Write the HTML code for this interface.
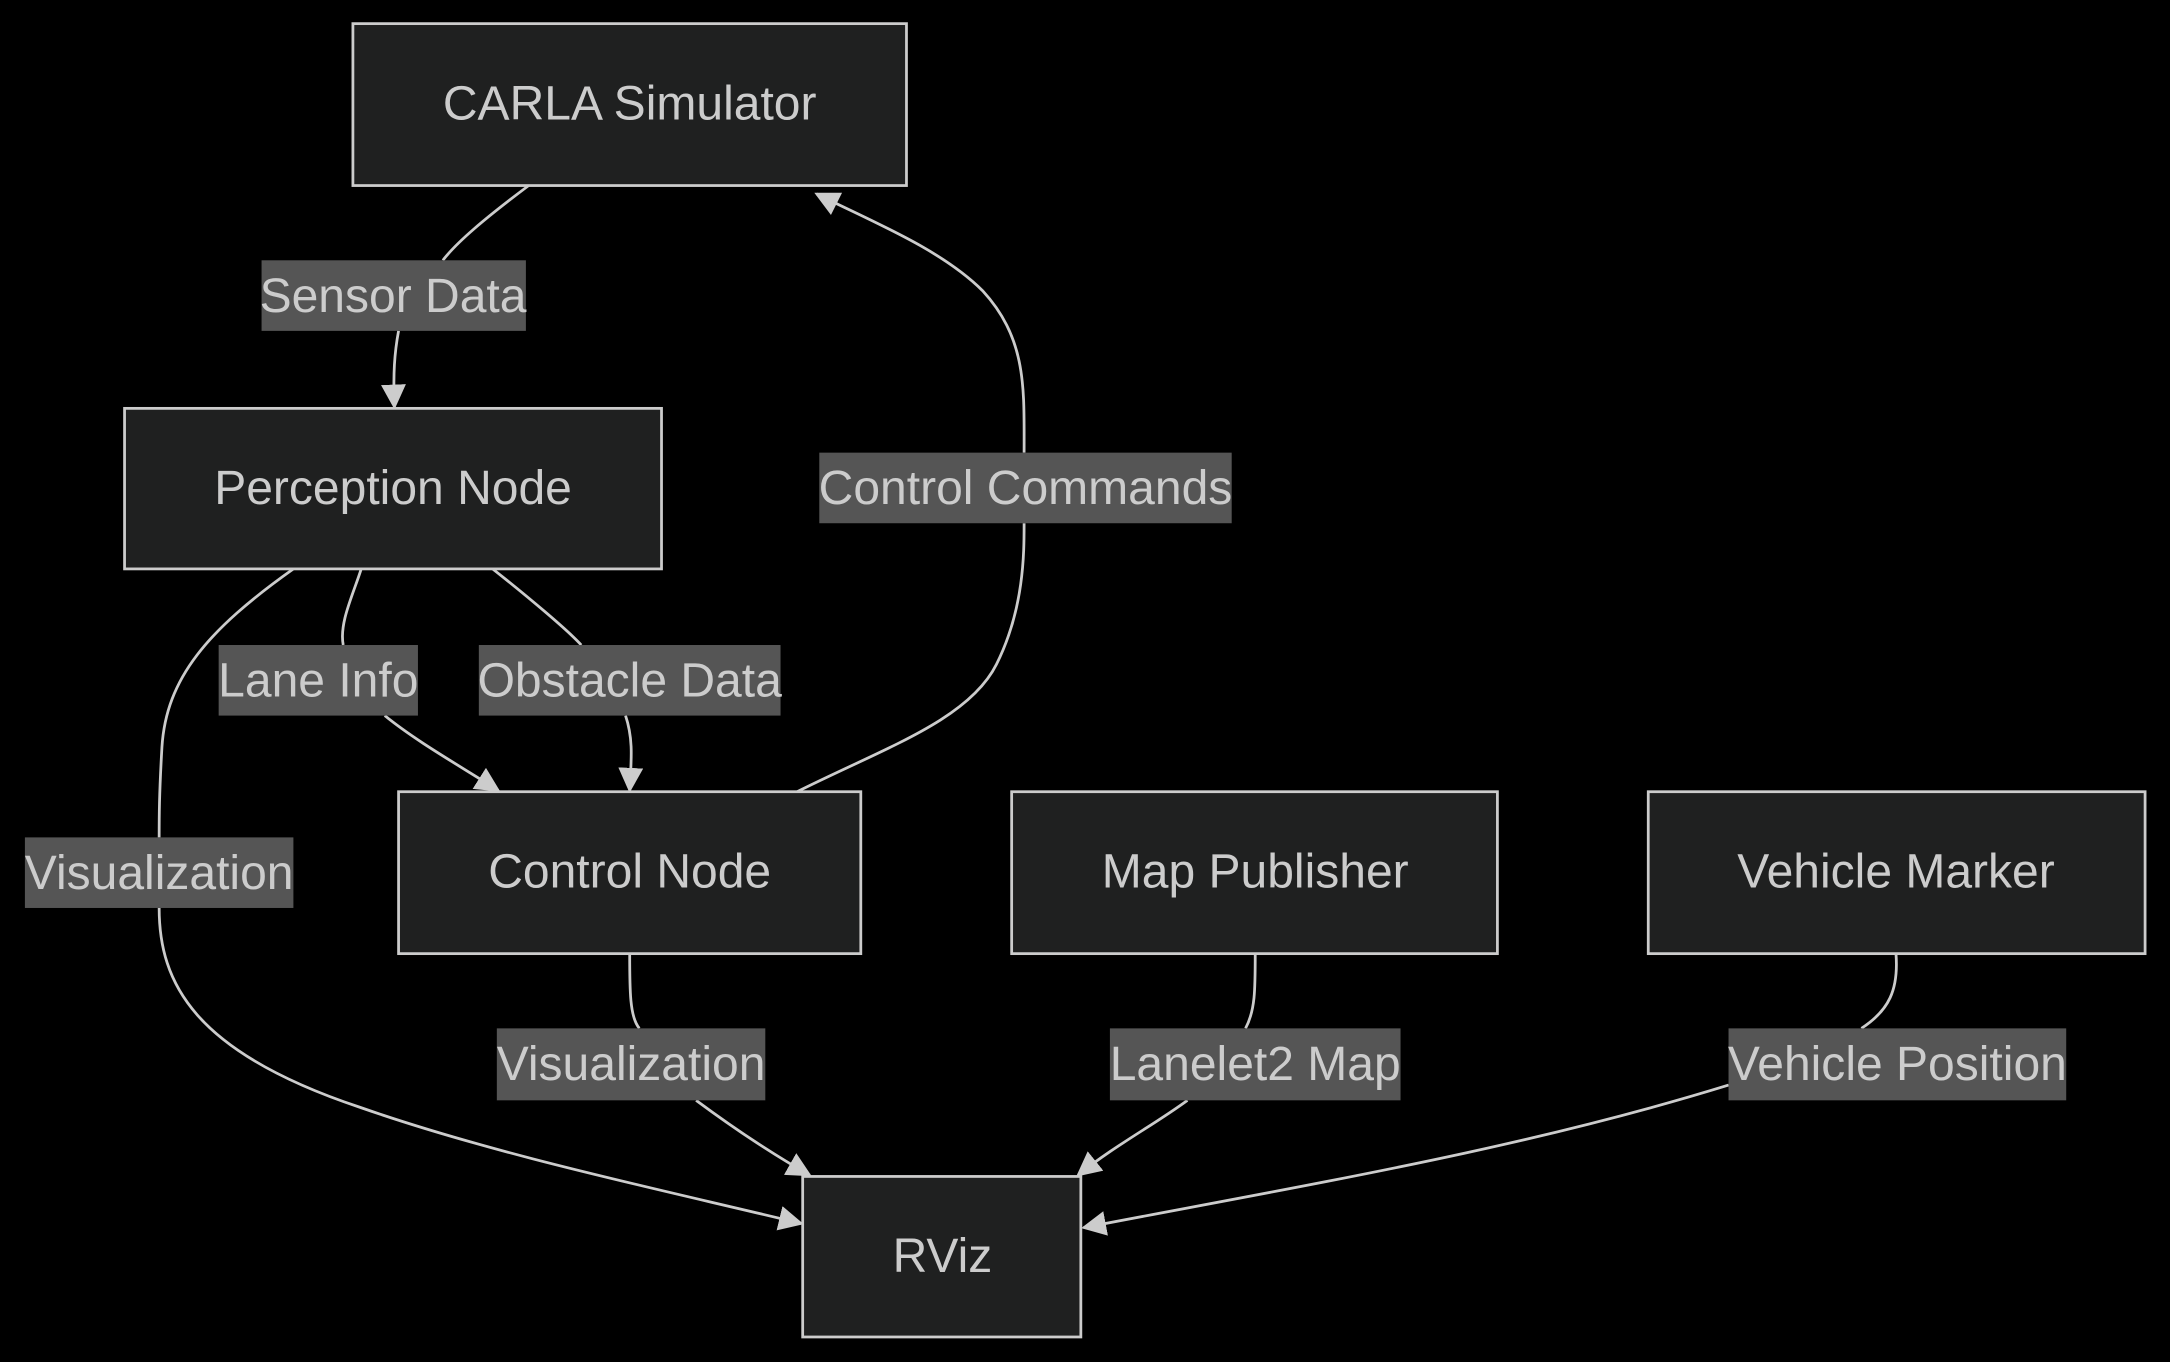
<!DOCTYPE html>
<html><head><meta charset="utf-8"><style>
html,body{margin:0;padding:0;background:#000;}
svg{display:block;}
text{font-family:"Liberation Sans",Arial,sans-serif;fill:#ccc;}
</style></head><body>
<svg width="2170" height="1362" viewBox="0 0 1568 984" xmlns="http://www.w3.org/2000/svg">
<defs>
<marker id="b" viewBox="0 0 10 10" refX="9" refY="5" markerWidth="18" markerHeight="18" markerUnits="userSpaceOnUse" orient="auto">
<path d="M0,0 L10,5 L0,10 z" fill="#ccc"/></marker>
</defs>
<rect width="1568" height="984" fill="#000"/>
<g fill="none" stroke="#ccc" stroke-width="2">
<path d="M382,134 C350,158 330,175 320,188"/>
<path d="M288,239 C285,255 284,270 285,294" marker-end="url(#b)"/>
<path d="M576,572 C640,540 700,520 720,480 C740,440 740,400 740,378"/>
<path d="M740,327 C740,280 742,245 710,210 C680,180 630,160 590,140" marker-end="url(#b)"/>
<path d="M261,411 C255,430 245,450 248,466"/>
<path d="M278,517 C300,535 330,552 360,571" marker-end="url(#b)"/>
<path d="M356,411 C380,430 410,455 420,466"/>
<path d="M452,517 C458,535 456,550 455,571" marker-end="url(#b)"/>
<path d="M212,411 C150,455 120,490 117,540 C115,575 115,590 115,605"/>
<path d="M115,656 C115,710 140,760 260,800 C360,835 480,860 579,884" marker-end="url(#b)"/>
<path d="M455,689 C455,715 455,735 462,743"/>
<path d="M503,795 C530,815 555,832 585,849" marker-end="url(#b)"/>
<path d="M907,689 C907,715 907,730 900,743"/>
<path d="M858,795 C835,812 805,828 779,849" marker-end="url(#b)"/>
<path d="M1370,689 C1372,715 1365,730 1345,743"/>
<path d="M1249,784 C1100,830 950,855 783,887" marker-end="url(#b)"/>
</g>
<g fill="#1f2020" stroke="#ccc" stroke-width="2">
<rect x="255" y="17" width="400" height="117"/>
<rect x="90" y="295" width="388" height="116"/>
<rect x="288" y="572" width="334" height="117"/>
<rect x="731" y="572" width="351" height="117"/>
<rect x="1191" y="572" width="359" height="117"/>
<rect x="580" y="850" width="201" height="116"/>
</g>
<g fill="#555">
<rect x="189" y="188" width="191" height="51"/>
<rect x="592" y="327" width="298" height="51"/>
<rect x="158" y="466" width="144" height="51"/>
<rect x="346" y="466" width="218" height="51"/>
<rect x="18" y="605" width="194" height="51"/>
<rect x="359" y="743" width="194" height="52"/>
<rect x="802" y="743" width="210" height="52"/>
<rect x="1249" y="743" width="244" height="52"/>
</g>
<g font-size="34.7" text-anchor="middle" dominant-baseline="central">
<text x="455" y="75">CARLA Simulator</text>
<text x="284" y="353">Perception Node</text>
<text x="455" y="630">Control Node</text>
<text x="907" y="630">Map Publisher</text>
<text x="1370" y="630">Vehicle Marker</text>
<text x="681" y="908">RViz</text>
<text x="284" y="214">Sensor Data</text>
<text x="741" y="353">Control Commands</text>
<text x="230" y="492">Lane Info</text>
<text x="455" y="492">Obstacle Data</text>
<text x="115" y="631">Visualization</text>
<text x="456" y="769">Visualization</text>
<text x="907" y="769">Lanelet2 Map</text>
<text x="1371" y="769">Vehicle Position</text>
</g>
</svg>
</body></html>
